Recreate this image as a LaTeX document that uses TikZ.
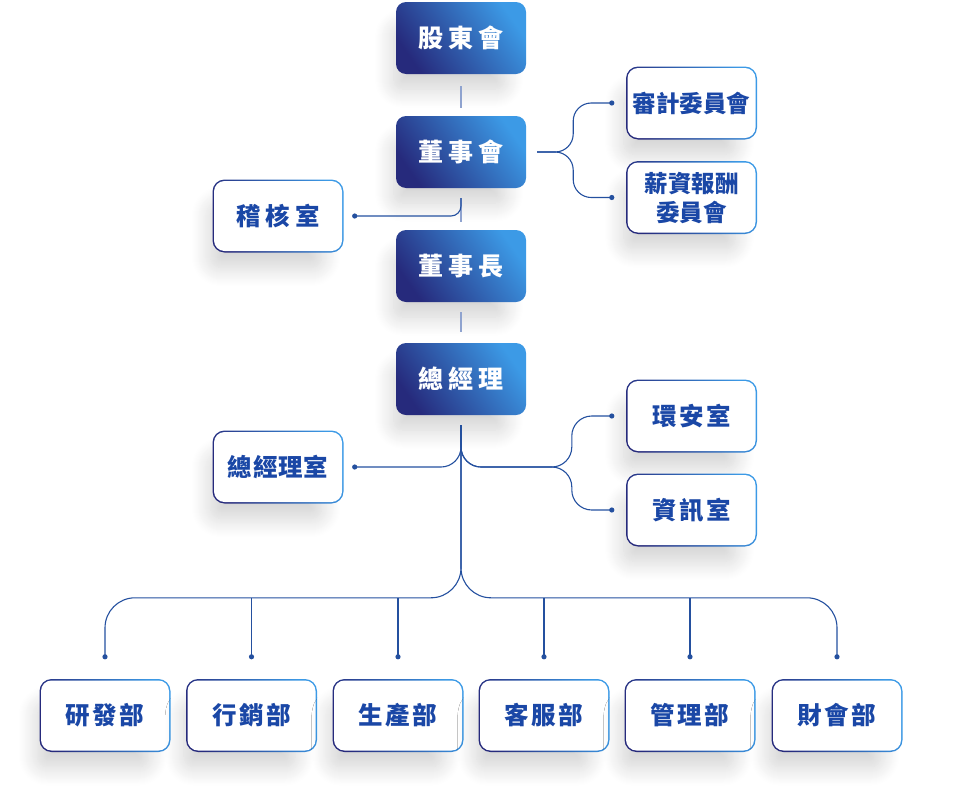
\documentclass[tikz,border=0pt]{standalone}
\usepackage{fontspec}
\newfontfamily\cjk{Noto Sans CJK TC}[BoldFont={Noto Sans CJK TC Black}]
\usepackage{tikz}
\usetikzlibrary{positioning,calc,shadows.blur}
\definecolor{navy}{HTML}{262A7C}
\definecolor{midblue}{HTML}{1E5CB9}
\definecolor{skyblue}{HTML}{3C9AE6}
\definecolor{inkblue}{HTML}{1A47A6}
\definecolor{linkblue}{HTML}{24509F}
\definecolor{trunkblue}{HTML}{8FA3CF}
\tikzset{
  boxshadow/.style={blur shadow={shadow xshift=-14pt,shadow yshift=-24pt,
    shadow scale=0.85,shadow blur radius=22pt,shadow blur steps=20,shadow opacity=18}},
  topbox/.style={boxshadow,rounded corners=10pt,minimum width=130pt,minimum height=72pt,
    left color=navy,middle color=midblue,right color=skyblue,shading angle=125,
    text=white,font=\cjk\bfseries\fontsize{25}{29}\selectfont\addfontfeature{LetterSpace=20}},
  subbox/.style={boxshadow,rounded corners=12pt,minimum width=131pt,minimum height=73pt,
    left color=navy,right color=skyblue,shading angle=110,
    path picture={\fill[white,rounded corners=10.5pt]
      ([shift={(1.5pt,-1.5pt)}]path picture bounding box.north west) rectangle
      ([shift={(-1.5pt,1.5pt)}]path picture bounding box.south east);},
    text=inkblue,align=center,font=\cjk\bfseries\fontsize{23.5}{29}\selectfont},
  spaced/.style={font=\cjk\bfseries\fontsize{24.5}{29}\selectfont\addfontfeature{LetterSpace=#1}},
  spaced/.default=10,
  branch/.style={draw=linkblue,line width=1.1pt,rounded corners=20pt},
  trunk/.style={draw=trunkblue,line width=1.1pt},
  pindot/.style={fill=linkblue}
}
\begin{document}
\begin{tikzpicture}[x=1pt,y=-1pt]
\useasboundingbox (0,0) rectangle (976,811);
% main line
\node[topbox] (holders) at (461,38) {股東會};
\node[topbox] (board) at (461,152) {董事會};
\node[topbox] (chair) at (461,266) {董事長};
\node[topbox] (ceo) at (461,379) {總經理};
% offices and committees
\node[subbox] (audit) at (691.5,103) {審計委員會};
\node[subbox] (salary) at (691.5,197.5) {薪資報酬\\委員會};
\node[subbox,spaced=20] (internal) at (278,216) {稽核室};
\node[subbox,spaced=3] (ceooffice) at (278,467) {總經理室};
\node[subbox,spaced] (safety) at (691.5,416) {環安室};
\node[subbox,spaced] (infotech) at (691.5,510) {資訊室};
% departments
\foreach \name/\txt/\x in {rnd/研發部/105,sales/行銷部/251.5,prod/生產部/398,
    service/客服部/544,admin/管理部/690,finance/財會部/837}
  \node[subbox,spaced] (\name) at (\x,715.5) {\txt};

\coordinate (audit-pin) at ([xshift=-14pt]audit.west);
\coordinate (salary-pin) at ([xshift=-14pt]salary.west);
\coordinate (safety-pin) at ([xshift=-14pt]safety.west);
\coordinate (infotech-pin) at ([xshift=-14pt]infotech.west);
\coordinate (internal-pin) at ([xshift=11pt]internal.east);
\coordinate (ceooffice-pin) at ([xshift=11pt]ceooffice.east);
\coordinate (ceo-top) at ([yshift=-10pt]ceo.south);
\foreach \name in {rnd,sales,prod,service,admin,finance}
  \coordinate (\name-pin) at ([yshift=22pt]\name.north);
\coordinate (bus) at ([yshift=59pt]rnd-pin);

% trunk
\draw[trunk] ([yshift=-12pt]holders.south) -- ([yshift=8pt]board.north);
\draw[trunk] ([yshift=-10pt]board.south) -- ([yshift=8pt]chair.north);
\draw[trunk] ([yshift=-10pt]chair.south) -- ([yshift=11pt]ceo.north);
% branches
\draw[branch,rounded corners=10pt] ([yshift=-10pt]board.south) |- (internal-pin);
\draw[branch,rounded corners=18pt] ([xshift=11pt]board.east) -- ([xshift=47pt]board.east) |- (audit-pin);
\draw[branch,rounded corners=18pt] ([xshift=11pt]board.east) -- ([xshift=47pt]board.east) |- (salary-pin);
\draw[branch] (ceo-top) |- (ceooffice-pin);
\draw[branch] (ceo-top) |- ($(safety-pin |- ceooffice-pin)+(-40pt,0)$) |- (safety-pin);
\draw[branch] (ceo-top) |- ($(infotech-pin |- ceooffice-pin)+(-40pt,0)$) |- (infotech-pin);
\draw[branch,rounded corners=30pt] (ceo-top) |- (bus) -- (rnd-pin);
\draw[branch,rounded corners=30pt] (ceo-top) |- (bus -| finance-pin) -- (finance-pin);
\foreach \name in {sales,prod,service,admin}
  \draw[branch] (\name-pin |- bus) -- (\name-pin);
\foreach \name in {audit,salary,safety,infotech,internal,ceooffice,rnd,sales,prod,service,admin,finance}
  \fill[pindot] (\name-pin) circle (2.6pt);
\end{tikzpicture}
\end{document}
